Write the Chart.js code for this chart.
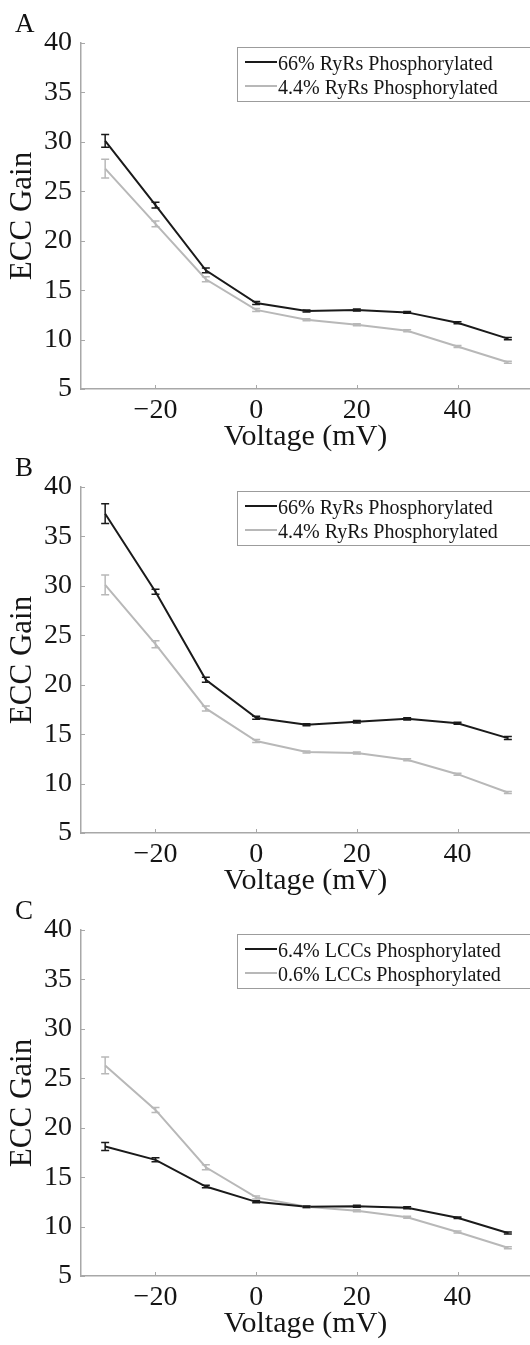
<!DOCTYPE html>
<html>
<head>
<meta charset="utf-8">
<script src="https://cdn.jsdelivr.net/npm/chart.js@4.4.0/dist/chart.umd.min.js"></script>
<style>
  html, body { margin: 0; padding: 0; background: #fff; }
  body { width: 530px; height: 1345px; position: relative; overflow: hidden; }
  canvas { position: absolute; left: 0; }
</style>
</head>
<body>
<canvas id="chartA" width="530" height="458" style="top:0px"></canvas>
<canvas id="chartB" width="530" height="458" style="top:444px"></canvas>
<canvas id="chartC" width="530" height="458" style="top:887px"></canvas>
<script>
// eixo x (mV) e ticks
const voltages = [-30, -20, -10, 0, 10, 20, 30, 40, 50];
const xTicks = [-20, 0, 20, 40];
const yTicks = [5, 10, 15, 20, 25, 30, 35, 40];

// painel A
const gainA66 = [30.1, 23.6, 17.0, 13.7, 12.9, 13.0, 12.75, 11.7, 10.1];
const errA66 = [0.65, 0.3, 0.25, 0.15, 0.1, 0.1, 0.1, 0.1, 0.12];
const gainA44 = [27.3, 21.7, 16.1, 13.0, 12.0, 11.5, 10.9, 9.3, 7.7];
const errA44 = [0.95, 0.3, 0.25, 0.15, 0.1, 0.1, 0.1, 0.1, 0.1];

// painel B
const gainB66 = [37.3, 29.4, 20.5, 16.65, 15.95, 16.25, 16.55, 16.1, 14.6];
const errB66 = [1.0, 0.25, 0.25, 0.15, 0.1, 0.12, 0.12, 0.1, 0.15];
const gainB44 = [30.1, 24.1, 17.6, 14.3, 13.2, 13.1, 12.4, 10.95, 9.1];
const errB44 = [1.0, 0.35, 0.25, 0.15, 0.1, 0.1, 0.1, 0.1, 0.1];

// painel C
const gainC64 = [18.1, 16.75, 14.05, 12.5, 12.0, 12.05, 11.9, 10.9, 9.35];
const errC64 = [0.4, 0.2, 0.12, 0.1, 0.08, 0.1, 0.1, 0.08, 0.1];
const gainC06 = [26.3, 21.8, 16.0, 12.95, 12.0, 11.6, 10.95, 9.45, 7.85];
const errC06 = [0.85, 0.25, 0.25, 0.15, 0.1, 0.1, 0.1, 0.1, 0.1];

const labelsRyR = ['66% RyRs Phosphorylated', '4.4% RyRs Phosphorylated'];
const labelsLCC = ['6.4% LCCs Phosphorylated', '0.6% LCCs Phosphorylated'];
const panelLetters = ['A', 'B', 'C'];

const escuro = '#1a1a1a';
const claro = '#b8b8b8';
const eixo = '#a8a8a8';

Chart.defaults.font.family = "'Liberation Serif', 'Times New Roman', serif";
Chart.defaults.color = '#151515';

function serie(label, values, err, color) {
    return {
        label: label,
        data: voltages.map((v, i) => ({ x: v, y: values[i] })),
        err: err,
        borderColor: color,
        borderWidth: 2,
        pointRadius: 0,
        tension: 0,
        fill: false
    };
}

// barras de erro, ticks para dentro, legenda com moldura e letra do painel
const extras = {
    id: 'extras',
    afterDatasetsDraw(chart) {
        const ctx = chart.ctx;
        const sx = chart.scales.x, sy = chart.scales.y;
        const sets = chart.data.datasets.slice().reverse();
        sets.forEach(ds => {
            ctx.save();
            ctx.strokeStyle = ds.borderColor;
            ctx.lineWidth = 1.5;
            ds.data.forEach((p, i) => {
                const px = sx.getPixelForValue(p.x);
                const top = sy.getPixelForValue(p.y + ds.err[i]);
                const bot = sy.getPixelForValue(p.y - ds.err[i]);
                ctx.beginPath();
                ctx.moveTo(px, top); ctx.lineTo(px, bot);
                ctx.moveTo(px - 4, top); ctx.lineTo(px + 4, top);
                ctx.moveTo(px - 4, bot); ctx.lineTo(px + 4, bot);
                ctx.stroke();
            });
            ctx.restore();
        });
    },
    afterDraw(chart, args, opts) {
        const ctx = chart.ctx;
        const area = chart.chartArea;
        const sx = chart.scales.x, sy = chart.scales.y;
        ctx.save();
        // ticks
        ctx.strokeStyle = eixo;
        ctx.lineWidth = 1;
        ctx.beginPath();
        sx.ticks.forEach(t => {
            const px = Math.round(sx.getPixelForValue(t.value)) + 0.5;
            ctx.moveTo(px, area.bottom); ctx.lineTo(px, area.bottom - 4);
        });
        sy.ticks.forEach(t => {
            const py = Math.round(sy.getPixelForValue(t.value)) + 0.5;
            ctx.moveTo(area.left, py); ctx.lineTo(area.left + 4, py);
        });
        ctx.stroke();

        // legenda
        const bx = 237, by = area.top + 4;
        ctx.strokeStyle = '#9c9c9c';
        ctx.strokeRect(bx + 0.5, by + 0.5, 400, 54);
        ctx.font = "20px 'Liberation Serif'";
        ctx.textBaseline = 'alphabetic';
        chart.data.datasets.forEach((ds, i) => {
            const ly = by + 15 + i * 24;
            ctx.strokeStyle = ds.borderColor;
            ctx.lineWidth = 2;
            ctx.beginPath();
            ctx.moveTo(bx + 8, ly); ctx.lineTo(bx + 40, ly);
            ctx.stroke();
            ctx.fillStyle = '#151515';
            ctx.fillText(ds.label, bx + 41, ly + 8);
        });

        // letra
        ctx.font = "27px 'Liberation Serif'";
        ctx.fillStyle = '#111';
        ctx.fillText(opts.letra, 15, 32);
        ctx.restore();
    }
};

function painel(id, letra, datasets) {
    const config = {
        type: 'line',
        data: { datasets: datasets },
        options: {
            responsive: false,
            animation: false,
            layout: { padding: { top: 43, right: 0, bottom: 0, left: 0 } },
            plugins: {
                legend: { display: false },
                tooltip: { enabled: false },
                extras: { letra: letra }
            },
            scales: {
                x: {
                    type: 'linear',
                    min: -34.8,
                    max: 54.4,
                    afterBuildTicks: s => { s.ticks = xTicks.map(v => ({ value: v })); },
                    afterFit: s => { s.height = 69; },
                    grid: { display: true, drawOnChartArea: false, drawTicks: false },
                    border: { display: true, color: eixo, width: 1.5 },
                    ticks: {
                        font: { size: 28 },
                        padding: 5,
                        maxRotation: 0,
                        autoSkip: false,
                        callback: v => v < 0 ? '\u2212' + Math.abs(v) : String(v)
                    },
                    title: { display: true, text: 'Voltage (mV)', font: { size: 30 }, padding: { top: 0, bottom: 3 } }
                },
                y: {
                    min: 5,
                    max: 40,
                    afterBuildTicks: s => { s.ticks = yTicks.map(v => ({ value: v })); },
                    afterFit: s => { s.width = 81; },
                    grid: { display: true, drawOnChartArea: false, drawTicks: false },
                    border: { display: true, color: eixo, width: 1.5 },
                    ticks: { font: { size: 28 }, padding: 9, autoSkip: false },
                    title: { display: true, text: 'ECC Gain', font: { size: 31 }, padding: { top: 4, bottom: 0 } }
                }
            }
        },
        plugins: [extras]
    };
    return new Chart(document.getElementById(id), config);
}

painel('chartA', panelLetters[0], [
    serie(labelsRyR[0], gainA66, errA66, escuro),
    serie(labelsRyR[1], gainA44, errA44, claro)
]);
painel('chartB', panelLetters[1], [
    serie(labelsRyR[0], gainB66, errB66, escuro),
    serie(labelsRyR[1], gainB44, errB44, claro)
]);
painel('chartC', panelLetters[2], [
    serie(labelsLCC[0], gainC64, errC64, escuro),
    serie(labelsLCC[1], gainC06, errC06, claro)
]);
</script>
</body>
</html>
